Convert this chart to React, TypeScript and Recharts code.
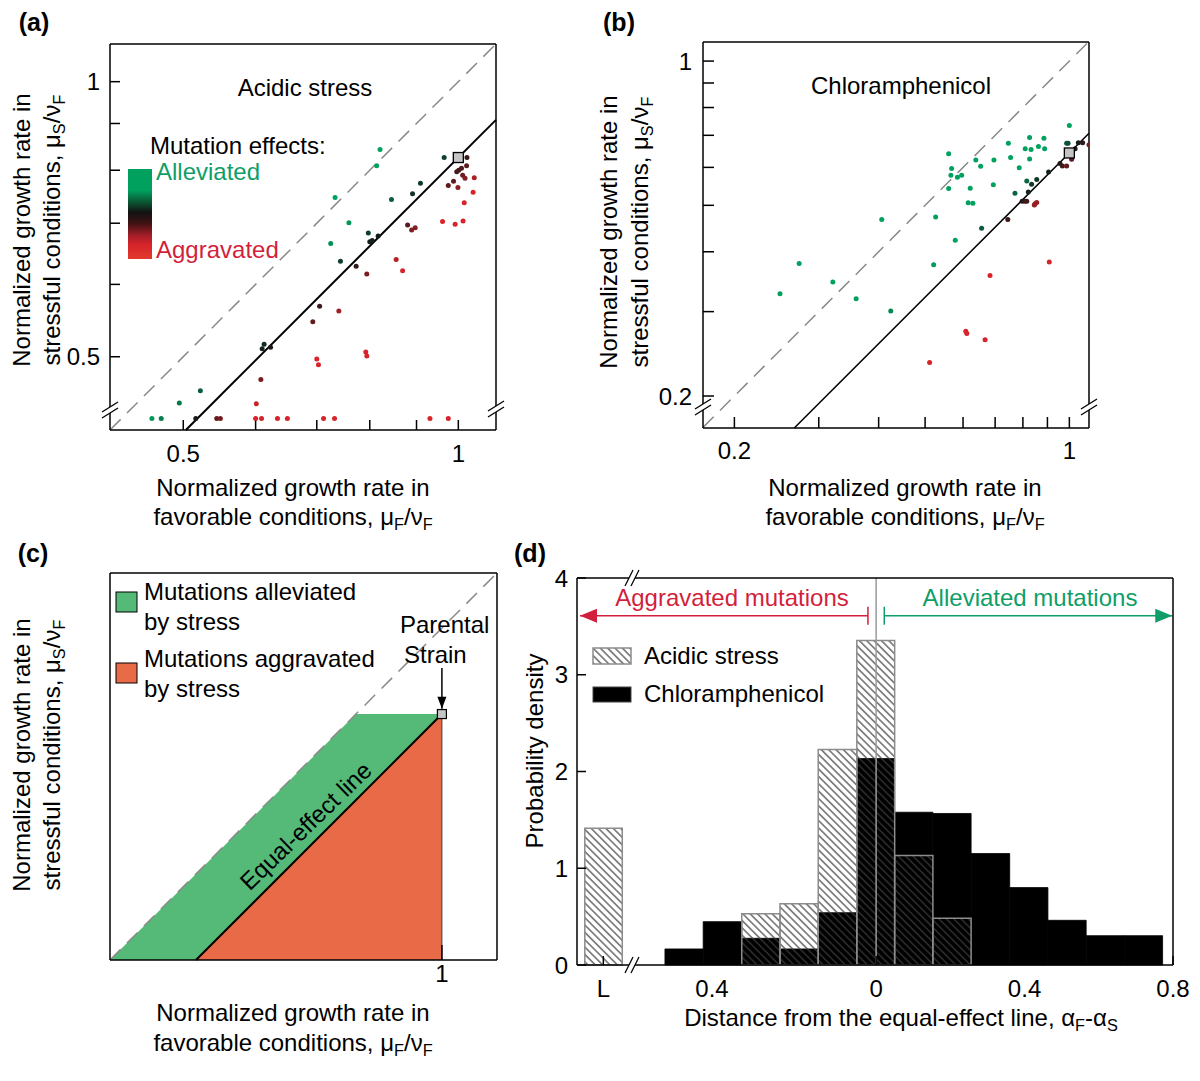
import React from 'react';
import { ComposedChart, Scatter, XAxis, YAxis, ReferenceLine, ReferenceArea, Area } from 'recharts';

const FONT = '"Liberation Sans", Arial, Helvetica, sans-serif';
const FS = 24;

// ---------------- Panel (a): acidic stress  [favorable, stressful] ----------------
const acidicPoints: [number, number][] = [
  [0.821, 0.843], [0.814, 0.809], [0.965, 0.826], [0.733, 0.747], [0.759, 0.701], [0.725, 0.665],
  [0.743, 0.636], [0.797, 0.683], [0.845, 0.743], [0.909, 0.774], [0.891, 0.754], [0.522, 0.459],
  [0.495, 0.445], [0.613, 0.516], [0.610, 0.510], [0.800, 0.668], [0.805, 0.670], [0.817, 0.678],
  [0.623, 0.512],
  [1.022, 0.826], [1.021, 0.809], [1.008, 0.804], [1.001, 0.800], [0.996, 0.797], [1.011, 0.790],
  [1.017, 0.784], [1.041, 0.785], [0.988, 0.778], [0.975, 0.770], [0.999, 0.766], [1.038, 0.757],
  [1.015, 0.737], [0.961, 0.703], [0.992, 0.698], [1.012, 0.704], [0.880, 0.697], [0.889, 0.688],
  [0.897, 0.692], [0.855, 0.639], [0.869, 0.621], [0.773, 0.628], [0.794, 0.616], [0.705, 0.568],
  [0.740, 0.561], [0.693, 0.546], [0.792, 0.506], [0.794, 0.501], [0.700, 0.497], [0.703, 0.490],
  [0.608, 0.472], [0.601, 0.444],
];
// mutants that fall below the axis break (drawn on the floor)
const acidicFloorX: number[] = [0.462, 0.473, 0.516, 0.544, 0.549, 0.600, 0.609, 0.634, 0.650, 0.712, 0.732, 0.931, 0.975];
const acidicFloorY = 0.428;
const acidicParent: [number, number] = [1, 0.826];
const acidicDomain: [number, number] = [0.4157, 1.0996];
const acidicTicks = [0.5, 0.6, 0.7, 0.8, 0.9, 1];
const acidicTickLabels = [0.5, 1];

// ---------------- Panel (b): chloramphenicol ----------------
const chloramPoints: [number, number][] = [
  [1.0, 0.734], [0.987, 0.674], [0.994, 0.674], [0.826, 0.693], [0.885, 0.690], [0.746, 0.674],
  [0.809, 0.656], [0.832, 0.654], [0.862, 0.663], [0.888, 0.656], [0.560, 0.641], [0.638, 0.622],
  [0.696, 0.622], [0.754, 0.629], [0.826, 0.625], [0.653, 0.603], [0.786, 0.599], [0.568, 0.597],
  [0.566, 0.578], [0.584, 0.572], [0.596, 0.578], [0.560, 0.542], [0.621, 0.543], [0.694, 0.552],
  [0.815, 0.562], [0.834, 0.553], [0.855, 0.566], [0.770, 0.530], [0.821, 0.533], [0.615, 0.506],
  [0.629, 0.505], [0.406, 0.467], [0.526, 0.473], [0.578, 0.423], [0.656, 0.448], [0.273, 0.378],
  [0.249, 0.327], [0.321, 0.346], [0.359, 0.319], [0.424, 0.301], [0.521, 0.376],
  [0.744, 0.467], [0.797, 0.510], [0.808, 0.510], [0.815, 0.510], [0.848, 0.504], [0.855, 0.507],
  [0.845, 0.501], [0.905, 0.587], [0.956, 0.611], [0.967, 0.604], [0.987, 0.604], [1.011, 0.624],
  [1.028, 0.656], [1.044, 0.675], [1.066, 0.675], [1.099, 0.669],
  [0.908, 0.381], [0.683, 0.357], [0.608, 0.273], [0.611, 0.270], [0.667, 0.262], [0.511, 0.235],
];
const chloramParent: [number, number] = [1, 0.643];
const chloramDomainX: [number, number] = [0.172, 1.099];
const chloramDomainY: [number, number] = [0.1715, 1.096];
const chloramTicks = [0.2, 0.3, 0.4, 0.5, 0.6, 0.7, 0.8, 0.9, 1];
const chloramTickLabels = [0.2, 1];

// ---------------- Panel (c): schematic ----------------
const schemParent: [number, number] = [1, 0.741];
const schemDomain: [number, number] = [0, 1.166];

// ---------------- Panel (d): histograms ----------------
const binEdges = [-0.569, -0.466, -0.362, -0.259, -0.156, -0.052, 0.050, 0.153, 0.256, 0.360, 0.463, 0.566, 0.669, 0.772];
const chlorDensity = [0.166, 0.448, 0.276, 0.166, 0.541, 2.134, 1.579, 1.566, 1.152, 0.80, 0.462, 0.303, 0.303];
const acidDensity = [0, 0, 0.531, 0.634, 2.228, 3.355, 1.131, 0.483, 0, 0, 0, 0, 0];
const lethalEdges: [number, number] = [-0.785, -0.684];
const acidLethalDensity = 1.414;
const histDomain: [number, number] = [-0.806, 0.8];
const histTicks = [-0.735, -0.4, 0, 0.4, 0.8];
const histTickLabels = ['L', '0.4', '0', '0.4', '0.8'];
const densityTicks = [0, 1, 2, 3, 4];
const arrowY = 3.61;

// ---------------- helpers ----------------
const GREEN = [0, 160, 94];
const BLACK = [22, 22, 22];
const REDC = [214, 36, 42];
function mix(a: number[], b: number[], t: number) {
  return a.map((v, i) => Math.round(v + (b[i] - v) * t));
}
function effectColor(d: number) {
  const t = Math.max(-1, Math.min(1, d / 0.12));
  const c = t >= 0 ? mix(BLACK, GREEN, t) : mix(BLACK, REDC, -t);
  return `rgb(${c.join(',')})`;
}

type Box = { x: number; y: number; w: number; h: number };
type Plot = { x0: number; y0: number; x1: number; y1: number };
function marginFor(box: Box, plot: Plot) {
  return {
    left: plot.x0 - box.x - 40,
    top: plot.y0 - box.y - 10,
    right: box.x + box.w - plot.x1 - 10,
    bottom: box.y + box.h - plot.y1 - 30,
  };
}
const axisStroke = { stroke: '#000', strokeWidth: 1.5 };
const tickText = { fontSize: FS, fill: '#000', fontFamily: FONT };

type Cap = 'arrow' | 'bar' | 'none';
function arrowShape(color: string, startCap: Cap, endCap: Cap, width = 1.5, head = 17, half = 7, bar = 9) {
  return (p: any) => {
    const x1 = Number(p.x1), y1 = Number(p.y1), x2 = Number(p.x2), y2 = Number(p.y2);
    const L = Math.hypot(x2 - x1, y2 - y1) || 1;
    const ux = (x2 - x1) / L, uy = (y2 - y1) / L;
    const nx = -uy, ny = ux;
    const cap = (c: Cap, x: number, y: number, dx: number, dy: number) => {
      if (c === 'arrow') {
        const bx = x - dx * head, by = y - dy * head;
        return <polygon points={`${x},${y} ${bx + nx * half},${by + ny * half} ${bx - nx * half},${by - ny * half}`} fill={color} />;
      }
      if (c === 'bar') return <line x1={x + nx * bar} y1={y + ny * bar} x2={x - nx * bar} y2={y - ny * bar} stroke={color} strokeWidth={width} />;
      return null;
    };
    return (
      <g>
        <line x1={x1} y1={y1} x2={x2} y2={y2} stroke={color} strokeWidth={width} />
        {cap(startCap, x1, y1, -ux, -uy)}
        {cap(endCap, x2, y2, ux, uy)}
      </g>
    );
  };
}

// ---------------- scatter panels (a) and (b) ----------------
function ScatterPanel(props: {
  box: Box; plot: Plot; domX: [number, number]; domY: [number, number]; ticks: number[]; tickLabels: number[];
  points: [number, number][]; parent: [number, number]; tickLen: number; leftTM: number; lineW: number;
}) {
  const { box, plot, domX, domY, ticks, tickLabels, points, parent, tickLen, leftTM, lineW } = props;
  const k = parent[1] / parent[0];
  const data = points.map(([x, y]) => ({ x, y, c: effectColor(Math.log(y / (k * x))) }));
  const fmt = (v: number) => (tickLabels.includes(v) ? String(v) : '');
  const lo = Math.max(domX[0], domY[0]);
  const hi = Math.min(domX[1], domY[1]);
  const s0 = Math.max(domX[0], domY[0] / k);
  const s1 = Math.min(domX[1], domY[1] / k);
  return (
    <div style={{ position: 'absolute', left: box.x, top: box.y }}>
      <ComposedChart width={box.w} height={box.h} margin={marginFor(box, plot)}>
        <ReferenceLine xAxisId="b" yAxisId="l" segment={[{ x: lo, y: lo }, { x: hi, y: hi }]} stroke="#8a8a8a" strokeWidth={1.5} strokeDasharray="15 9" ifOverflow="visible" />
        <ReferenceLine xAxisId="b" yAxisId="l" segment={[{ x: s0, y: s0 * k }, { x: s1, y: s1 * k }]} stroke="#000" strokeWidth={lineW} ifOverflow="visible" />
        <Scatter xAxisId="b" yAxisId="l" data={data} isAnimationActive={false}
          shape={(p: any) => <circle cx={p.cx} cy={p.cy} r={2.5} fill={p.payload?.c ?? '#000'} />} />
        <Scatter xAxisId="b" yAxisId="l" data={[{ x: parent[0], y: parent[1] }]} isAnimationActive={false}
          shape={(p: any) => <rect x={p.cx - 5} y={p.cy - 5} width={10} height={10} fill="#c4c4c4" stroke="#000" strokeWidth={1.3} />} />
        <XAxis xAxisId="b" orientation="bottom" type="number" dataKey="x" scale="log" domain={domX} allowDataOverflow
          ticks={ticks} interval={0} tickFormatter={fmt} height={30} tickSize={-tickLen} tickMargin={25}
          axisLine={axisStroke} tickLine={axisStroke} tick={tickText} />
        <XAxis xAxisId="t" orientation="top" type="number" dataKey="x" scale="log" domain={domX} allowDataOverflow
          ticks={ticks} interval={0} height={10} tickSize={-tickLen} axisLine={axisStroke} tickLine={axisStroke} tick={false} />
        <YAxis yAxisId="l" orientation="left" type="number" dataKey="y" scale="log" domain={domY} allowDataOverflow
          ticks={ticks} interval={0} tickFormatter={fmt} width={40} tickSize={-tickLen} tickMargin={leftTM}
          axisLine={axisStroke} tickLine={axisStroke} tick={tickText} />
        <YAxis yAxisId="r" orientation="right" type="number" dataKey="y" scale="log" domain={domY} allowDataOverflow
          ticks={ticks} interval={0} width={10} tickSize={-tickLen} axisLine={axisStroke} tickLine={axisStroke} tick={false} />
      </ComposedChart>
    </div>
  );
}

// ---------------- panel (c) ----------------
function SchematicPanel() {
  const box: Box = { x: 40, y: 560, w: 480, h: 430 };
  const plot: Plot = { x0: 110, y0: 573, x1: 497, y1: 960 };
  const [px, py] = schemParent;
  const gap = px - py;
  const data = [
    { x: schemDomain[0], green: [0, 0], red: null },
    { x: gap, green: [0, gap], red: [0, 0] },
    { x: py, green: [py - gap, py], red: [0, py - gap] },
    { x: px, green: [py, py], red: [0, py] },
  ];
  return (
    <div style={{ position: 'absolute', left: box.x, top: box.y }}>
      <ComposedChart width={box.w} height={box.h} margin={marginFor(box, plot)} data={data}>
        <Area xAxisId="b" yAxisId="l" type="linear" dataKey="green" fill="#55b977" fillOpacity={1} stroke="none" isAnimationActive={false} />
        <Area xAxisId="b" yAxisId="l" type="linear" dataKey="red" fill="#e86a47" fillOpacity={1} stroke="none" isAnimationActive={false} />
        <ReferenceLine xAxisId="b" yAxisId="l" segment={[{ x: schemDomain[0], y: schemDomain[0] }, { x: schemDomain[1], y: schemDomain[1] }]} stroke="#8a8a8a" strokeWidth={1.5} strokeDasharray="15 9" ifOverflow="visible" />
        <ReferenceLine xAxisId="b" yAxisId="l" segment={[{ x: px, y: 0 }, { x: px, y: py }]} stroke="#3a3a3a" strokeWidth={1} ifOverflow="visible" />
        <ReferenceLine xAxisId="b" yAxisId="l" segment={[{ x: gap, y: 0 }, { x: px, y: py }]} stroke="#000" strokeWidth={2} ifOverflow="visible" />
        <ReferenceLine xAxisId="b" yAxisId="l" segment={[{ x: px, y: py + 0.139 }, { x: px, y: py + 0.016 }]} ifOverflow="visible"
          shape={arrowShape('#000', 'none', 'arrow', 1.5, 12, 4.5)} />
        <Scatter xAxisId="b" yAxisId="l" data={[{ x: px, y: py }]} isAnimationActive={false}
          shape={(p: any) => <rect x={p.cx - 4.5} y={p.cy - 4.5} width={9} height={9} fill="#c4c4c4" stroke="#000" strokeWidth={1.2} />} />
        <XAxis xAxisId="b" orientation="bottom" type="number" dataKey="x" domain={schemDomain} allowDataOverflow
          ticks={[px]} interval={0} height={30} tickSize={-15} tickMargin={20} axisLine={axisStroke} tickLine={axisStroke} tick={tickText} />
        <XAxis xAxisId="t" orientation="top" type="number" dataKey="x" domain={schemDomain} allowDataOverflow
          ticks={[px]} interval={0} height={10} tickSize={-15} axisLine={axisStroke} tickLine={axisStroke} tick={false} />
        <YAxis yAxisId="l" orientation="left" type="number" dataKey="y" domain={schemDomain} allowDataOverflow
          ticks={[py]} interval={0} width={40} tickSize={-15} axisLine={axisStroke} tickLine={axisStroke} tick={false} />
        <YAxis yAxisId="r" orientation="right" type="number" dataKey="y" domain={schemDomain} allowDataOverflow
          ticks={[py]} interval={0} width={10} tickSize={-15} axisLine={axisStroke} tickLine={axisStroke} tick={false} />
      </ComposedChart>
    </div>
  );
}

// ---------------- panel (d) ----------------
const HistTick = (p: any) => {
  const v = p.payload?.value;
  const i = histTicks.indexOf(v);
  const neg = v < 0 && v > lethalEdges[1];
  return (
    <text x={neg ? p.x + 1 : p.x} y={p.y} dy="0.71em" textAnchor={neg ? 'end' : 'middle'} fontSize={FS} fontFamily={FONT} fill="#000">
      {histTickLabels[i]}
    </text>
  );
};

function HistogramPanel() {
  const box: Box = { x: 530, y: 565, w: 660, h: 440 };
  const plot: Plot = { x0: 577, y0: 578, x1: 1173, y1: 965 };
  // bin tops (centres) - used to anchor the axes to data
  const tops = chlorDensity.map((h, i) => ({ x: (binEdges[i] + binEdges[i + 1]) / 2, y: h }));
  return (
    <div style={{ position: 'absolute', left: box.x, top: box.y }}>
      <ComposedChart width={box.w} height={box.h} margin={marginFor(box, plot)} data={tops}>
        <Scatter xAxisId="b" yAxisId="l" data={tops} isAnimationActive={false} shape={() => <g />} />
        {chlorDensity.map((h, i) => (
          <ReferenceArea key={`c${i}`} xAxisId="b" yAxisId="l" x1={binEdges[i]} x2={binEdges[i + 1]} y1={0} y2={h}
            fill="#000" fillOpacity={1} stroke="#000" strokeWidth={0.8} ifOverflow="visible" />
        ))}
        {acidDensity.map((h, i) => (h > 0 ? (
          <ReferenceArea key={`a${i}`} xAxisId="b" yAxisId="l" x1={binEdges[i]} x2={binEdges[i + 1]} y1={0} y2={h}
            fill="url(#hatch)" fillOpacity={1} stroke="#8c8c8c" strokeWidth={1.5} ifOverflow="visible" />
        ) : null))}
        <ReferenceArea xAxisId="b" yAxisId="l" x1={lethalEdges[0]} x2={lethalEdges[1]} y1={0} y2={acidLethalDensity}
          fill="url(#hatch)" fillOpacity={1} stroke="#8c8c8c" strokeWidth={1.5} ifOverflow="visible" />
        <ReferenceLine xAxisId="b" yAxisId="l" x={0} stroke="#9a9a9a" strokeWidth={1.5} ifOverflow="visible" />
        <ReferenceLine xAxisId="b" yAxisId="l" segment={[{ x: -0.022, y: arrowY }, { x: -0.798, y: arrowY }]} ifOverflow="visible"
          shape={arrowShape('#d21f3c', 'bar', 'arrow')} />
        <ReferenceLine xAxisId="b" yAxisId="l" segment={[{ x: 0.022, y: arrowY }, { x: 0.798, y: arrowY }]} ifOverflow="visible"
          shape={arrowShape('#0f9e68', 'bar', 'arrow')} />
        <XAxis xAxisId="b" orientation="bottom" type="number" dataKey="x" domain={histDomain} allowDataOverflow
          ticks={histTicks} interval={0} height={30} tickSize={-9} tickMargin={24} axisLine={axisStroke} tickLine={axisStroke} tick={<HistTick />} />
        <XAxis xAxisId="t" orientation="top" type="number" dataKey="x" domain={histDomain} allowDataOverflow
          ticks={histTicks} interval={0} height={10} tickSize={-9} axisLine={axisStroke} tickLine={axisStroke} tick={false} />
        <YAxis yAxisId="l" orientation="left" type="number" dataKey="y" domain={[0, 4]} allowDataOverflow
          ticks={densityTicks} interval={0} width={40} tickSize={-9} tickMargin={18} axisLine={axisStroke} tickLine={axisStroke} tick={tickText} />
        <YAxis yAxisId="r" orientation="right" type="number" dataKey="y" domain={[0, 4]} allowDataOverflow
          ticks={densityTicks} interval={0} width={10} tickSize={-9} axisLine={axisStroke} tickLine={axisStroke} tick={false} />
      </ComposedChart>
    </div>
  );
}

// ---------------- text helpers ----------------
function T(props: { x: number; y: number; children: React.ReactNode; anchor?: 'start' | 'middle'; rot?: number; color?: string; size?: number; bold?: boolean }) {
  const { x, y, children, anchor = 'middle', rot = 0, color = '#000', size = FS, bold = false } = props;
  const tx = anchor === 'middle' ? '-50%' : '0';
  return (
    <div style={{
      position: 'absolute', left: x, top: y, transform: `translate(${tx}, -50%) rotate(${rot}deg)`,
      whiteSpace: 'nowrap', fontFamily: FONT, fontSize: size, lineHeight: 1, color, fontWeight: bold ? 700 : 400,
    }}>{children}</div>
  );
}
const Sub = ({ children }: { children: React.ReactNode }) => (
  <span style={{ fontSize: '0.68em', position: 'relative', top: '0.32em' }}>{children}</span>
);
const MuS = () => <>μ<Sub>S</Sub>/ν<Sub>F</Sub></>;
const MuF = () => <>μ<Sub>F</Sub>/ν<Sub>F</Sub></>;

function Break({ cx, cy, vertical }: { cx: number; cy: number; vertical: boolean }) {
  const a = vertical ? [[cx - 8, cy + 2], [cx + 8, cy - 8]] : [[cx - 7, cy + 8], [cx + 1, cy - 8]];
  const b = vertical ? [[cx - 8, cy + 8], [cx + 8, cy - 2]] : [[cx - 1, cy + 8], [cx + 7, cy - 8]];
  return (
    <g>
      <polygon points={`${a[0].join(',')} ${a[1].join(',')} ${b[1].join(',')} ${b[0].join(',')}`} fill="#fff" />
      <line x1={a[0][0]} y1={a[0][1]} x2={a[1][0]} y2={a[1][1]} stroke="#000" strokeWidth={1.3} />
      <line x1={b[0][0]} y1={b[0][1]} x2={b[1][0]} y2={b[1][1]} stroke="#000" strokeWidth={1.3} />
    </g>
  );
}

export default function App() {
  const acidAll: [number, number][] = [...acidicPoints, ...acidicFloorX.map((x) => [x, acidicFloorY] as [number, number])];
  return (
    <div style={{ position: 'absolute', left: 0, top: 0, width: 1200, height: 1081, background: '#fff', overflow: 'hidden' }}>
      <svg width={1200} height={1081} style={{ position: 'absolute', left: 0, top: 0 }}>
        <defs>
          <pattern id="hatch" patternUnits="userSpaceOnUse" width={5.2} height={5.2} patternTransform="rotate(-45)">
            <line x1={2.6} y1={0} x2={2.6} y2={5.2} stroke="#3c3c3c" strokeWidth={1.15} />
          </pattern>
        </defs>
      </svg>

      <ScatterPanel box={{ x: 40, y: 30, w: 480, h: 450 }} plot={{ x0: 110, y0: 44, x1: 496, y1: 430 }}
        domX={acidicDomain} domY={acidicDomain} ticks={acidicTicks} tickLabels={acidicTickLabels}
        points={acidAll} parent={acidicParent} tickLen={10} leftTM={20} lineW={2} />
      <ScatterPanel box={{ x: 630, y: 28, w: 480, h: 450 }} plot={{ x0: 703, y0: 42, x1: 1089, y1: 428 }}
        domX={chloramDomainX} domY={chloramDomainY} ticks={chloramTicks} tickLabels={chloramTickLabels}
        points={chloramPoints} parent={chloramParent} tickLen={11} leftTM={22} lineW={1.5} />
      <SchematicPanel />
      <HistogramPanel />

      <svg width={1200} height={1081} style={{ position: 'absolute', left: 0, top: 0, pointerEvents: 'none' }}>
        <Break cx={110} cy={410} vertical />
        <Break cx={496} cy={409} vertical />
        <Break cx={703} cy={407} vertical />
        <Break cx={1089} cy={407} vertical />
        <Break cx={632} cy={578} vertical={false} />
        <Break cx={632} cy={965} vertical={false} />
        <rect x={116} y={592} width={21} height={20} fill="#55b977" stroke="#000" strokeWidth={1} />
        <rect x={116} y={663} width={21} height={20} fill="#e86a47" stroke="#000" strokeWidth={1} />
        <rect x={593} y={648} width={38} height={16} fill="url(#hatch)" stroke="#8c8c8c" strokeWidth={1.5} />
        <rect x={593} y={687} width={38} height={15} fill="#000" stroke="#444" strokeWidth={1} />
      </svg>

      {/* colour bar legend of panel (a) */}
      <div style={{
        position: 'absolute', left: 128, top: 169, width: 24, height: 90,
        background: 'linear-gradient(to bottom, #00a05e 0%, #00a05e 24%, #0b5a36 36%, #121212 48%, #3c1212 60%, #a51e28 74%, #d6242a 84%, #e23a2e 100%)',
      }} />

      <T x={34} y={22} bold size={25}>(a)</T>
      <T x={619} y={22} bold size={25}>(b)</T>
      <T x={33} y={553} bold size={25}>(c)</T>
      <T x={530} y={553} bold size={25}>(d)</T>

      <T x={305} y={88}>Acidic stress</T>
      <T x={901} y={86}>Chloramphenicol</T>
      <T x={150} y={146} anchor="start">Mutation effects:</T>
      <T x={156} y={172} anchor="start" color="#0f9e68">Alleviated</T>
      <T x={156} y={250} anchor="start" color="#d21f3c">Aggravated</T>

      <T x={293} y={488}>Normalized growth rate in</T>
      <T x={293} y={517}>favorable conditions, <MuF /></T>
      <T x={905} y={488}>Normalized growth rate in</T>
      <T x={905} y={517}>favorable conditions, <MuF /></T>
      <T x={293} y={1013}>Normalized growth rate in</T>
      <T x={293} y={1043}>favorable conditions, <MuF /></T>

      <T x={22} y={230} rot={-90}>Normalized growth rate in</T>
      <T x={52} y={230} rot={-90}>stressful conditions, <MuS /></T>
      <T x={609} y={232} rot={-90}>Normalized growth rate in</T>
      <T x={640} y={232} rot={-90}>stressful conditions, <MuS /></T>
      <T x={22} y={755} rot={-90}>Normalized growth rate in</T>
      <T x={52} y={755} rot={-90}>stressful conditions, <MuS /></T>

      <T x={144} y={592} anchor="start">Mutations alleviated</T>
      <T x={144} y={622} anchor="start">by stress</T>
      <T x={144} y={659} anchor="start">Mutations aggravated</T>
      <T x={144} y={689} anchor="start">by stress</T>
      <T x={400} y={625} anchor="start">Parental</T>
      <T x={404} y={655} anchor="start">Strain</T>
      <T x={306} y={826} rot={-44}>Equal-effect line</T>

      <T x={535} y={751} rot={-90}>Probability density</T>
      <T x={901} y={1018}>Distance from the equal-effect line, α<Sub>F</Sub>-α<Sub>S</Sub></T>
      <T x={732} y={598} color="#d21f3c">Aggravated mutations</T>
      <T x={1030} y={598} color="#0f9e68">Alleviated mutations</T>
      <T x={644} y={656} anchor="start">Acidic stress</T>
      <T x={644} y={694} anchor="start">Chloramphenicol</T>
    </div>
  );
}
